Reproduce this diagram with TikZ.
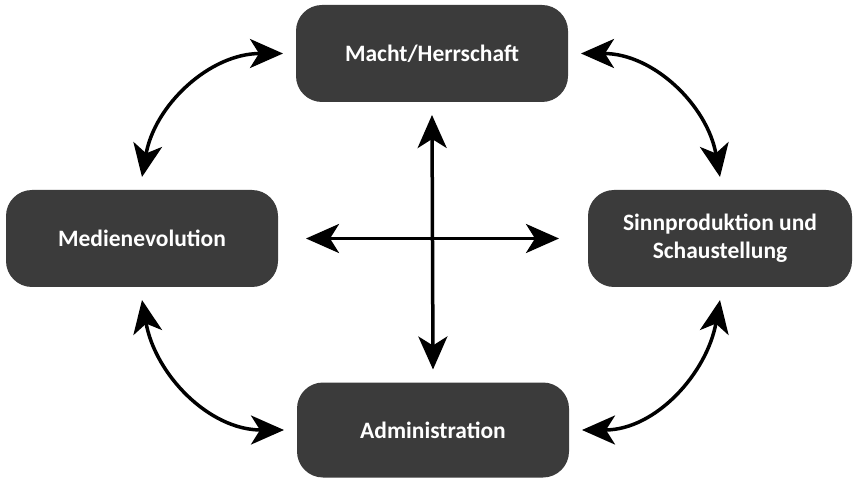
\documentclass[tikz,border=0pt]{standalone}
\usepackage{fontspec}
\setmainfont{Carlito}
\usetikzlibrary{positioning, arrows.meta}
\definecolor{boxgray}{HTML}{3B3B3B}

\begin{document}
\begin{tikzpicture}[x=1pt, y=-1pt,
                box/.style={draw=none, fill=boxgray, text=white, rounded corners=26pt,
                        minimum width=272pt, minimum height=97pt, outer sep=13pt,
                        align=center, font=\fontsize{23.5}{28}\selectfont\bfseries},
                arr/.style={{Stealth[length=33pt, width=29pt, inset=9pt]}-{Stealth[length=33pt, width=29pt, inset=9pt]},
                        line width=3.5pt, black}]
                \useasboundingbox (0,0) rectangle (854,478);
                % Boxes
                \node[box] (macht) at (432,53.5) {Macht/Herrschaft};
                \node[box] (medien) at (142,238.5) {Medienevolution};
                \node[box, minimum width=264pt] (sinn) at (720,238.5) {Sinnproduktion und\\Schaustellung};
                \node[box, minimum height=95pt] (admin) at (433,430) {Administration};

                % Curved arrows
                \draw[arr] (medien.north) to[out=80, in=180] (macht.west);
                \draw[arr] (macht.east) to[out=0, in=100] (sinn.north);
                \draw[arr] (medien.south) to[out=-80, in=180] (admin.west);
                \draw[arr] (admin.east) to[out=0, in=-100] (sinn.south);

                % Cross
                \draw[arr, shorten <=15pt, shorten >=16pt] (medien.east) -- (sinn.west);
                \draw[arr] (macht.south) -- (admin.north);
            \end{tikzpicture}
\end{document}
